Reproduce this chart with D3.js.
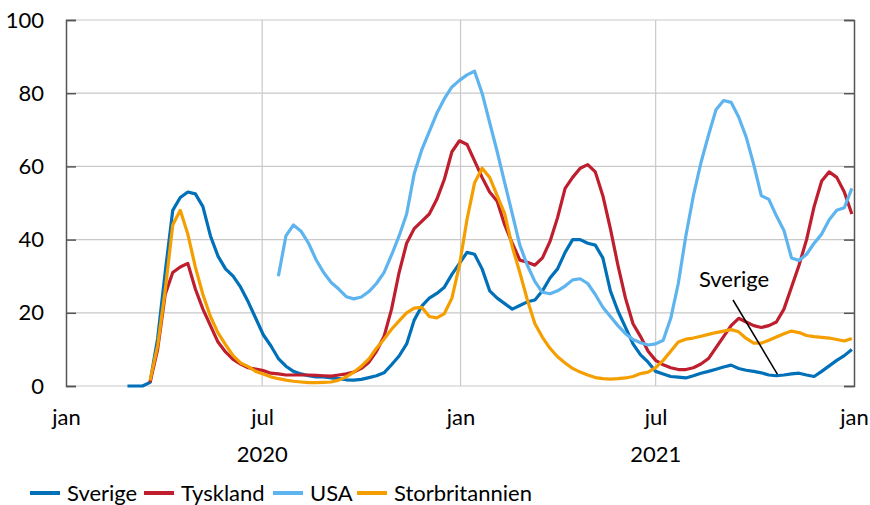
<!DOCTYPE html>
<html><head><meta charset="utf-8">
<script src="https://cdn.jsdelivr.net/npm/d3@7"></script>
<style>body{margin:0;background:#fff}svg{display:block}text{font-family:Lato,"Open Sans",sans-serif;fill:#000}</style>
</head><body><svg id="c" width="870" height="505"></svg>
<script>
// weekly observations starting 2020-02-27
const startDate = "2020-02-27";
const stepDays = 7;
const sverige = [0,0,0,1,13,31,48,51.5,53,52.5,49,41,35.5,32,30,27,23,18.5,14,11,7.5,5.4,4,3.3,2.8,2.5,2.5,2.2,2,1.7,1.6,1.8,2.3,2.8,3.6,5.8,8.2,11.5,18,21.8,24,25.3,27,30.5,33.5,36.5,36,32,26,24,22.5,21,22,23,23.5,26,29.5,32,36.5,40,40,39,38.5,35,26,20.5,16,11.5,8.5,6.5,4,3.3,2.6,2.4,2.2,2.8,3.5,4,4.6,5.2,5.7,4.8,4.3,4,3.6,3,2.8,3,3.3,3.5,3,2.6,4,5.5,7,8.3,10];
const tyskland = [null,null,null,1,10,25,31,32.5,33.5,26.5,21,16.5,12,9.3,7.3,6,5,4.6,4.2,3.5,3.3,3,3,3,3,2.9,2.8,2.7,3,3.3,3.8,4.8,6.5,9.5,13.5,21,31,39,43,45,47,51,56.5,64,67,66,61.5,57,53,50.5,44,39,34.4,33.8,33,35,39.5,46,54,57,59.5,60.5,58.5,52,43,33,24,17,13.5,9.5,7,5.8,5,4.5,4.5,5,6,7.5,10.5,13.5,16.5,18.5,17.5,16.5,16,16.5,17.5,21,27,33,40,49,56,58.5,57,53,47];
const usa = [null,null,null,null,null,null,null,null,null,null,null,null,null,null,null,null,null,null,null,null,30,41,44,42.3,39,34.5,31,28.3,26.5,24.4,23.8,24.3,25.8,28,31,35.8,41,47,58,64.5,69.5,74.5,78.5,81.7,83.5,85,86,80,72,64,55.5,47,38.5,33,28.5,25.6,25.2,26,27.3,29,29.3,28,25,21.5,19,16.5,14.3,12.7,11.8,11.2,11.5,12.5,18.5,28,41,52,61,68.5,75.5,78,77.5,73.5,68,60.5,52,51,46.5,42.5,35,34.3,36,39,41.5,45.4,48,48.7,54];
const storbritannien = [null,null,null,1.5,11,26,44,48,41.5,32.5,25,19,14.5,11.3,8.3,6.3,5.3,4,3.3,2.5,2,1.6,1.3,1.1,0.9,0.9,1,1.1,1.6,2.5,3.8,5.4,7.4,10.3,12.8,15.5,17.8,20,21.3,21.5,19,18.6,19.8,24,33,45.5,55.5,59.5,57,52,47,38,31,23.5,17,13.3,10.3,8,6.3,4.8,3.8,3,2.3,2,1.9,2,2.2,2.6,3.4,3.8,5,7,9.5,12,12.8,13.1,13.6,14.1,14.6,15,15.4,14.8,13,11.7,11.7,12.5,13.4,14.3,15,14.6,13.8,13.5,13.3,13.1,12.7,12.3,13];
const seriesNames = ["Sverige","Tyskland","USA","Storbritannien"];
const seriesColors = ["#0070B8","#BE1E2D","#5DB4EE","#F59E00"];
const yTicks = [0,20,40,60,80,100];
const monthTicks = ["2020-01-01","2020-07-01","2021-01-01","2021-07-01","2022-01-01"];
const monthLabels = ["jan","jul","jan","jul","jan"];
const yearLabels = [["2020","2020-07-01"],["2021","2021-07-01"]];
const annotation = {label:"Sverige", date:"2021-10-22", value:3.2};

const parse = d3.utcParse("%Y-%m-%d");
const svg = d3.select("#c");
const L=66, R=854, T=20, B=386;
const x = d3.scaleUtc().domain([parse("2020-01-01"), parse("2022-01-01")]).range([L,R]);
const y = d3.scaleLinear().domain([0,100]).range([B,T]);
const s0 = parse(startDate);
const dates = sverige.map((_,i)=>d3.utcDay.offset(s0, i*stepDays));
const allSeries = [sverige,tyskland,usa,storbritannien];
const FS = "22px";

// gridlines
const g = svg.append("g");
g.selectAll("line.h").data(yTicks).join("line")
  .attr("x1",L).attr("x2",R).attr("y1",d=>y(d)).attr("y2",d=>y(d))
  .attr("stroke","#c9c9c9").attr("stroke-width",1.2);
g.selectAll("line.v").data(monthTicks.slice(1,4)).join("line")
  .attr("x1",d=>x(parse(d))).attr("x2",d=>x(parse(d))).attr("y1",T).attr("y2",B)
  .attr("stroke","#c9c9c9").attr("stroke-width",1.2);

// axes
const ya = svg.append("g").attr("transform",`translate(${L},0)`)
  .call(d3.axisLeft(y).tickValues(yTicks).tickSize(-10).tickPadding(22));
ya.select(".domain").attr("stroke","#555").attr("stroke-width",1.5);
ya.selectAll(".tick line").attr("stroke","#555").attr("stroke-width",1.5);
ya.selectAll("text").style("font-size",FS).attr("fill","#000");
const yr = svg.append("g").attr("transform",`translate(${R},0)`)
  .call(d3.axisRight(y).tickValues(yTicks).tickSize(-10).tickFormat(""));
yr.select(".domain").attr("stroke","#555").attr("stroke-width",1.5);
yr.selectAll(".tick line").attr("stroke","#555").attr("stroke-width",1.5);

const xa = svg.append("g").attr("transform",`translate(0,${B})`)
  .call(d3.axisBottom(x).tickValues(monthTicks.map(parse)).tickSize(0).tickPadding(23)
    .tickFormat((d,i)=>monthLabels[i]));
xa.select(".domain").remove();
xa.selectAll("text").style("font-size",FS).attr("fill","#000");
svg.selectAll("text.yr").data(yearLabels).join("text").attr("class","yr")
  .attr("x",d=>x(parse(d[1]))).attr("y",462).attr("text-anchor","middle")
  .style("font-size",FS).text(d=>d[0]);

// lines
const line = d3.line().defined(d=>d[1]!=null).x(d=>x(d[0])).y(d=>y(d[1])).curve(d3.curveLinear);
allSeries.forEach((vals,i)=>{
  svg.append("path").datum(vals.map((v,j)=>[dates[j],v]))
    .attr("d",line).attr("fill","none").attr("stroke",seriesColors[i])
    .attr("stroke-width",3.2).attr("stroke-linejoin","round");
});

// annotation
const ax = x(parse(annotation.date)), ay = y(annotation.value);
svg.append("line").attr("x1",733).attr("y1",300).attr("x2",ax).attr("y2",ay)
  .attr("stroke","#000").attr("stroke-width",1.5);
svg.append("text").attr("x",734).attr("y",287).attr("text-anchor","middle")
  .style("font-size",FS).text(annotation.label);

// legend
const lg = svg.append("g");
const legX = [30,144,273,357];
seriesNames.forEach((n,i)=>{
  lg.append("line").attr("x1",legX[i]).attr("x2",legX[i]+30).attr("y1",493).attr("y2",493)
    .attr("stroke",seriesColors[i]).attr("stroke-width",4);
  lg.append("text").attr("x",legX[i]+37).attr("y",501).style("font-size",FS).text(n);
});
</script></body></html>
